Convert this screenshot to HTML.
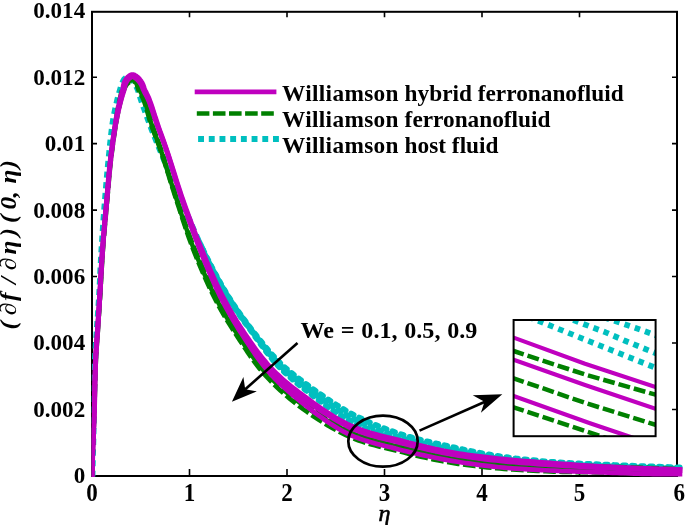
<!DOCTYPE html>
<html><head><meta charset="utf-8"><style>
html,body{margin:0;padding:0;background:#fff;}
svg{display:block;}
svg{will-change:transform;}
</style></head><body>
<svg width="685" height="525" viewBox="0 0 685 525">
<rect width="685" height="525" fill="#fff"/>
<path d="M92.00,476.00V469.00M92.00,11.80V17.30M189.50,476.00V469.00M189.50,11.80V17.30M287.00,476.00V469.00M287.00,11.80V17.30M384.50,476.00V469.00M384.50,11.80V17.30M482.00,476.00V469.00M482.00,11.80V17.30M579.50,476.00V469.00M579.50,11.80V17.30M677.00,476.00V469.00M677.00,11.80V17.30M92.00,409.45H97.00M677.00,409.45H672.00M92.00,343.00H97.00M677.00,343.00H672.00M92.00,276.55H97.00M677.00,276.55H672.00M92.00,210.10H97.00M677.00,210.10H672.00M92.00,143.65H97.00M677.00,143.65H672.00M92.00,77.20H97.00M677.00,77.20H672.00" stroke="#000" stroke-width="1.6" fill="none"/>
<rect x="92" y="11.8" width="585" height="464.2" fill="none" stroke="#000" stroke-width="2"/>
<clipPath id="cc"><rect x="91.7" y="0" width="600" height="476.5"/></clipPath>
<clipPath id="cm"><rect x="91.7" y="0" width="600" height="477"/></clipPath>
<g clip-path="url(#cc)">
<path d="M92.40,477.00 92.41,476.41 92.44,475.37 92.47,473.93 92.51,472.18 92.55,470.17 92.60,467.99 92.65,465.69 92.70,463.36 92.76,461.05 92.81,458.84 92.86,456.80 92.90,455.00 92.93,453.67 92.97,452.42 93.00,451.22 93.03,450.06 93.07,448.91 93.10,447.77 93.13,446.62 93.17,445.43 93.20,444.19 93.23,442.88 93.27,441.49 93.30,440.00 93.36,437.34 93.41,434.45 93.46,431.35 93.52,428.09 93.57,424.70 93.63,421.20 93.68,417.64 93.74,414.05 93.80,410.45 93.87,406.89 93.93,403.39 94.00,400.00 94.07,396.65 94.14,393.27 94.20,389.86 94.27,386.45 94.34,383.04 94.41,379.64 94.49,376.26 94.57,372.91 94.66,369.59 94.76,366.33 94.88,363.13 95.00,360.00 95.12,357.35 95.25,354.75 95.38,352.20 95.52,349.68 95.67,347.19 95.83,344.73 95.98,342.28 96.15,339.84 96.31,337.40 96.47,334.95 96.64,332.49 96.80,330.00 96.96,327.52 97.13,325.09 97.31,322.68 97.48,320.28 97.66,317.89 97.84,315.48 98.02,313.04 98.19,310.57 98.37,308.04 98.55,305.44 98.73,302.77 98.90,300.00 99.12,296.28 99.33,292.40 99.54,288.39 99.74,284.27 99.95,280.07 100.15,275.79 100.36,271.48 100.57,267.14 100.79,262.80 101.02,258.48 101.25,254.21 101.50,250.00 101.76,245.81 102.03,241.60 102.30,237.37 102.58,233.12 102.87,228.88 103.17,224.65 103.47,220.43 103.77,216.25 104.07,212.11 104.38,208.01 104.69,203.97 105.00,200.00 105.28,196.51 105.55,193.07 105.82,189.68 106.10,186.33 106.38,183.01 106.66,179.72 106.95,176.44 107.24,173.16 107.54,169.89 107.85,166.61 108.17,163.32 108.50,160.00 108.84,156.62 109.19,153.17 109.54,149.67 109.90,146.15 110.26,142.62 110.64,139.13 111.02,135.68 111.41,132.30 111.82,129.02 112.23,125.86 112.66,122.85 113.10,120.00 113.42,118.06 113.76,116.18 114.11,114.34 114.46,112.55 114.82,110.81 115.18,109.12 115.54,107.48 115.91,105.89 116.27,104.35 116.62,102.85 116.96,101.40 117.30,100.00 117.53,99.04 117.76,98.11 117.99,97.21 118.22,96.34 118.44,95.49 118.66,94.66 118.89,93.86 119.11,93.07 119.33,92.29 119.55,91.52 119.77,90.76 120.00,90.00 120.19,89.36 120.37,88.74 120.55,88.12 120.73,87.50 120.91,86.90 121.09,86.30 121.27,85.72 121.46,85.15 121.66,84.59 121.86,84.05 122.07,83.52 122.30,83.00 122.50,82.57 122.69,82.14 122.89,81.71 123.09,81.29 123.30,80.87 123.51,80.47 123.73,80.08 123.96,79.71 124.20,79.37 124.45,79.05 124.72,78.76 125.00,78.50 125.25,78.30 125.52,78.11 125.80,77.94 126.09,77.77 126.39,77.63 126.69,77.50 127.00,77.39 127.31,77.30 127.61,77.23 127.91,77.20 128.21,77.18 128.50,77.20 128.80,77.25 129.10,77.35 129.41,77.47 129.71,77.63 130.01,77.81 130.31,78.02 130.61,78.24 130.90,78.48 131.19,78.73 131.47,78.98 131.74,79.24 132.00,79.50 132.29,79.80 132.56,80.12 132.83,80.46 133.09,80.82 133.34,81.19 133.59,81.57 133.83,81.96 134.07,82.36 134.30,82.77 134.53,83.18 134.77,83.59 135.00,84.00 135.26,84.46 135.51,84.92 135.76,85.38 136.01,85.86 136.26,86.34 136.50,86.82 136.74,87.32 136.97,87.83 137.21,88.35 137.44,88.89 137.67,89.44 137.90,90.00 138.18,90.72 138.44,91.46 138.69,92.20 138.93,92.97 139.17,93.75 139.41,94.55 139.66,95.38 139.91,96.24 140.18,97.12 140.47,98.05 140.77,99.00 141.10,100.00 141.67,101.69 142.30,103.52 142.97,105.47 143.68,107.51 144.42,109.63 145.19,111.81 145.98,114.03 146.78,116.27 147.59,118.50 148.40,120.71 149.21,122.89 150.00,125.00 150.78,127.06 151.56,129.08 152.33,131.06 153.11,133.03 153.89,135.00 154.69,136.98 155.50,138.99 156.33,141.05 157.20,143.16 158.09,145.35 159.02,147.62 160.00,150.00 161.47,153.57 163.03,157.35 164.67,161.31 166.37,165.41 168.14,169.63 169.94,173.95 171.78,178.32 173.64,182.72 175.50,187.11 177.35,191.48 179.19,195.79 181.00,200.00 182.79,204.18 184.56,208.36 186.32,212.54 188.09,216.72 189.86,220.90 191.64,225.08 193.44,229.25 195.27,233.42 197.14,237.58 199.04,241.73 200.99,245.87 203.00,250.00 205.10,254.23" stroke="#00BFBF" stroke-width="6" fill="none" stroke-dasharray="6.2 4.5"/>
<path d="M199.04,241.73 200.99,245.87 203.00,250.00 205.10,254.23 207.24,258.48 209.42,262.75 211.64,267.02 213.89,271.28 216.18,275.53 218.50,279.74 220.84,283.92 223.22,288.04 225.62,292.10 228.05,296.09 230.50,300.00 232.83,303.59 235.23,307.17 237.67,310.73 240.15,314.25 242.66,317.73 245.18,321.15 247.70,324.51 250.20,327.79 252.67,330.99 255.11,334.10 257.49,337.11 259.80,340.00 261.57,342.19 263.29,344.32 264.99,346.39 266.66,348.41 268.31,350.37 269.96,352.29 271.60,354.16 273.24,355.99 274.90,357.79 276.57,359.55 278.27,361.29 280.00,363.00 281.59,364.52 283.14,365.97 284.67,367.36 286.19,368.70 287.72,370.01 289.28,371.31 290.88,372.61 292.53,373.91 294.25,375.25 296.06,376.64 297.97,378.08 300.00,379.60 303.33,382.08 306.93,384.73 310.78,387.53 314.82,390.43 319.02,393.41 323.35,396.41 327.78,399.41 332.26,402.36 336.76,405.23 341.24,407.99 345.66,410.59 350.00,413.00 354.08,415.14 358.18,417.20 362.30,419.18 366.44,421.08 370.59,422.90 374.77,424.66 378.95,426.36 383.15,427.99 387.35,429.57 391.56,431.09 395.78,432.57 400.00,434.00 404.12,435.33 408.26,436.58 412.41,437.76 416.56,438.88 420.73,439.94 424.90,440.96 429.08,441.94 433.27,442.89 437.45,443.83 441.64,444.75 445.82,445.67 450.00,446.60 454.16,447.53 458.31,448.44 462.47,449.34 466.63,450.23 470.80,451.10 474.96,451.94 479.13,452.76 483.30,453.56 487.47,454.32 491.64,455.05 495.82,455.75 500.00,456.40 504.15,457.01 508.31,457.58 512.47,458.12 516.64,458.62 520.80,459.09 524.97,459.54 529.14,459.96 533.31,460.36 537.48,460.74 541.66,461.11 545.83,461.46 550.00,461.80 554.16,462.12 558.33,462.41 562.49,462.68 566.66,462.92 570.82,463.15 574.99,463.36 579.16,463.56 583.33,463.75 587.50,463.94 591.66,464.12 595.83,464.31 600.00,464.50 604.21,464.69 608.48,464.88 612.80,465.07 617.14,465.25 621.48,465.42 625.79,465.59 630.07,465.76 634.27,465.92 638.39,466.07 642.40,466.22 646.28,466.36 650.00,466.50 652.92,466.61 656.01,466.71 659.19,466.82 662.38,466.93 665.53,467.03 668.54,467.13 671.37,467.22 673.92,467.31 676.13,467.38 677.93,467.43 679.24,467.48 680.00,467.50" stroke="#00BFBF" stroke-width="6" fill="none" stroke-linecap="round" stroke-dasharray="2.6 6.4" stroke-dashoffset="0"/>
<path d="M198.68,241.90 200.63,246.04 202.64,250.18 204.73,254.41 206.87,258.67 209.05,262.94 211.27,267.22 213.52,271.49 215.80,275.73 218.11,279.96 220.46,284.14 222.83,288.27 225.24,292.34 227.66,296.33 230.11,300.25 232.44,303.85 234.84,307.44 237.28,311.00 239.76,314.53 242.27,318.01 244.79,321.44 247.30,324.81 249.80,328.10 252.20,331.36 254.57,334.53 256.89,337.59 259.13,340.53 260.85,342.77 262.53,344.94 264.19,347.05 265.82,349.11 267.43,351.12 269.04,353.09 270.64,355.01 272.25,356.89 273.88,358.74 275.52,360.56 277.19,362.36 278.90,364.13 280.46,365.71 281.99,367.22 283.50,368.66 285.01,370.06 286.52,371.43 288.06,372.79 289.64,374.14 291.27,375.51 292.97,376.91 294.75,378.36 296.63,379.86 298.63,381.44 301.92,383.99 305.48,386.72 309.28,389.60 313.27,392.60 317.44,395.66 321.74,398.77 326.13,401.87 330.58,404.94 335.06,407.93 339.54,410.81 343.98,413.54 348.33,416.08 352.48,418.26 356.63,420.34 360.81,422.34 365.00,424.27 369.21,426.12 373.43,427.90 377.66,429.61 381.90,431.26 386.14,432.85 390.39,434.39 394.64,435.88 398.90,437.32 403.09,438.63 407.30,439.86 411.51,441.02 415.72,442.10 419.93,443.14 424.15,444.12 428.36,445.07 432.57,445.98 436.77,446.88 440.97,447.76 445.16,448.64 449.35,449.53 453.52,450.41 457.69,451.29 461.87,452.15 466.05,453.00 470.23,453.83 474.42,454.64 478.61,455.42 482.81,456.18 487.01,456.91 491.21,457.60 495.42,458.25 499.62,458.87 503.81,459.44 507.99,459.98 512.18,460.47 516.37,460.94 520.55,461.37 524.74,461.78 528.93,462.16 533.11,462.52 537.30,462.86 541.48,463.18 545.66,463.49 549.84,463.79 554.02,464.10 558.20,464.38 562.37,464.63 566.55,464.86 570.72,465.07 574.90,465.26 579.07,465.45 583.24,465.62 587.41,465.79 591.58,465.96 595.75,466.13 599.92,466.31 604.13,466.48 608.40,466.66 612.72,466.82 617.06,466.99 621.41,467.15 625.73,467.30 630.00,467.45 634.21,467.59 638.33,467.73 642.34,467.86 646.22,467.99 649.94,468.11 652.87,468.21 655.95,468.30 659.13,468.40 662.33,468.50 665.47,468.59 668.49,468.68 671.32,468.76 673.87,468.83 676.08,468.89 677.88,468.94 679.19,468.98 679.95,469.00" stroke="#00BFBF" stroke-width="6" fill="none" stroke-linecap="round" stroke-dasharray="2.6 6.4" stroke-dashoffset="3"/>
<path d="M198.32,242.07 200.27,246.22 202.27,250.36 204.37,254.60 206.50,258.86 208.68,263.13 210.89,267.41 213.14,271.69 215.42,275.94 217.73,280.17 220.08,284.36 222.45,288.49 224.85,292.57 227.27,296.57 229.72,300.50 232.05,304.11 234.45,307.70 236.89,311.27 239.37,314.81 241.88,318.30 244.39,321.73 246.91,325.11 249.40,328.41 251.73,331.73 254.03,334.95 256.28,338.07 258.47,341.07 260.14,343.34 261.78,345.56 263.38,347.72 264.97,349.82 266.55,351.87 268.12,353.88 269.69,355.86 271.26,357.79 272.86,359.70 274.47,361.57 276.12,363.43 277.79,365.26 279.34,366.90 280.84,368.46 282.34,369.97 283.83,371.42 285.32,372.85 286.85,374.27 288.41,375.68 290.02,377.11 291.69,378.57 293.45,380.07 295.30,381.64 297.25,383.29 300.50,385.90 304.02,388.71 307.78,391.68 311.73,394.76 315.86,397.92 320.12,401.13 324.48,404.34 328.91,407.52 333.37,410.63 337.85,413.63 342.29,416.49 346.67,419.16 350.88,421.37 355.09,423.48 359.32,425.51 363.57,427.46 367.82,429.33 372.09,431.13 376.37,432.86 380.65,434.53 384.93,436.14 389.22,437.69 393.50,439.19 397.80,440.65 402.06,441.93 406.33,443.14 410.61,444.27 414.88,445.33 419.14,446.33 423.39,447.28 427.64,448.19 431.87,449.07 436.10,449.93 440.31,450.77 444.50,451.61 448.70,452.46 452.88,453.30 457.07,454.14 461.26,454.97 465.46,455.78 469.67,456.57 473.88,457.34 478.10,458.08 482.32,458.80 486.55,459.49 490.78,460.15 495.01,460.76 499.25,461.34 503.46,461.88 507.68,462.37 511.89,462.83 516.10,463.26 520.30,463.65 524.51,464.02 528.71,464.36 532.91,464.67 537.11,464.97 541.30,465.26 545.49,465.53 549.68,465.79 553.87,466.08 558.06,466.34 562.25,466.58 566.44,466.79 570.62,466.99 574.81,467.16 578.98,467.33 583.16,467.49 587.33,467.65 591.50,467.80 595.67,467.95 599.83,468.11 604.04,468.27 608.32,468.43 612.65,468.58 616.99,468.73 621.34,468.87 625.66,469.01 629.94,469.14 634.15,469.27 638.27,469.39 642.28,469.51 646.16,469.62 649.88,469.73 652.81,469.81 655.90,469.90 659.08,469.98 662.28,470.06 665.42,470.14 668.44,470.22 671.27,470.29 673.82,470.35 676.03,470.40 677.83,470.45 679.15,470.48 679.90,470.50" stroke="#00BFBF" stroke-width="6" fill="none" stroke-linecap="round" stroke-dasharray="2.6 6.4" stroke-dashoffset="6"/>
<path d="M92.20,477.00 92.22,476.41 92.24,475.37 92.28,473.93 92.32,472.18 92.37,470.17 92.43,467.99 92.49,465.69 92.55,463.36 92.62,461.05 92.68,458.84 92.74,456.80 92.80,455.00 92.85,453.67 92.89,452.39 92.94,451.17 92.99,449.98 93.04,448.81 93.08,447.64 93.13,446.47 93.19,445.28 93.24,444.04 93.29,442.76 93.34,441.42 93.40,440.00 93.48,437.88 93.57,435.68 93.65,433.40 93.74,431.05 93.83,428.62 93.93,426.12 94.02,423.56 94.12,420.95 94.21,418.28 94.31,415.56 94.41,412.80 94.50,410.00 94.62,406.24 94.73,402.25 94.84,398.09 94.95,393.80 95.06,389.42 95.17,385.00 95.28,380.57 95.41,376.19 95.54,371.90 95.68,367.74 95.83,363.76 96.00,360.00 96.14,357.23 96.29,354.56 96.45,351.96 96.61,349.43 96.78,346.96 96.95,344.52 97.13,342.11 97.31,339.72 97.48,337.32 97.66,334.91 97.83,332.48 98.00,330.00 98.17,327.52 98.33,325.09 98.49,322.68 98.66,320.28 98.82,317.89 98.98,315.48 99.15,313.04 99.31,310.57 99.48,308.04 99.65,305.44 99.82,302.77 100.00,300.00 100.23,296.28 100.46,292.40 100.69,288.39 100.92,284.27 101.15,280.07 101.39,275.79 101.63,271.47 101.89,267.13 102.15,262.79 102.42,258.48 102.70,254.21 103.00,250.00 103.31,245.81 103.64,241.60 103.99,237.37 104.34,233.12 104.71,228.88 105.08,224.65 105.45,220.43 105.83,216.25 106.21,212.11 106.58,208.01 106.94,203.97 107.30,200.00 107.61,196.51 107.90,193.07 108.19,189.68 108.47,186.33 108.75,183.01 109.03,179.71 109.32,176.43 109.63,173.16 109.94,169.89 110.27,166.61 110.62,163.32 111.00,160.00 111.40,156.62 111.83,153.17 112.28,149.67 112.74,146.14 113.21,142.62 113.70,139.12 114.20,135.68 114.70,132.30 115.20,129.02 115.70,125.86 116.20,122.85 116.70,120.00 117.05,118.06 117.41,116.18 117.76,114.34 118.12,112.55 118.48,110.81 118.84,109.12 119.21,107.48 119.57,105.89 119.93,104.34 120.29,102.85 120.65,101.40 121.00,100.00 121.25,99.03 121.50,98.08 121.74,97.16 121.99,96.27 122.23,95.39 122.47,94.55 122.72,93.73 122.97,92.93 123.22,92.16 123.47,91.41 123.73,90.69 124.00,90.00 124.20,89.51 124.39,89.03 124.59,88.56 124.79,88.11 124.99,87.67 125.19,87.25 125.39,86.84 125.60,86.44 125.82,86.06 126.04,85.69 126.27,85.34 126.50,85.00 126.69,84.74 126.88,84.49 127.07,84.25 127.27,84.02 127.46,83.79 127.66,83.58 127.87,83.38 128.08,83.18 128.30,83.00 128.52,82.82 128.76,82.65 129.00,82.50 129.26,82.35 129.53,82.20 129.81,82.06 130.10,81.93 130.39,81.80 130.69,81.69 131.00,81.60 131.30,81.52 131.61,81.46 131.91,81.41 132.21,81.39 132.50,81.40 132.80,81.43 133.10,81.47 133.41,81.54 133.72,81.62 134.03,81.73 134.33,81.85 134.63,81.99 134.93,82.15 135.21,82.34 135.49,82.54 135.75,82.76 136.00,83.00 136.31,83.39 136.59,83.83 136.84,84.34 137.06,84.88 137.00,85.56 137.18,86.18 137.37,86.82 137.56,87.48 137.75,88.15 137.97,88.82 138.21,89.49 138.48,90.15 138.84,90.93 139.23,91.70 139.63,92.47 140.06,93.24 140.49,94.02 140.94,94.81 141.38,95.63 141.83,96.47 142.28,97.34 142.72,98.25 143.16,99.21 143.58,100.21 144.21,101.88 144.83,103.69 145.45,105.62 146.06,107.66 146.67,109.79 147.29,111.98 147.91,114.21 148.54,116.46 149.17,118.72 149.84,120.95 150.53,123.14 151.23,125.26 151.96,127.34 152.69,129.36 153.42,131.35 154.17,133.32 154.92,135.28 155.68,137.26 156.46,139.27 157.24,141.32 158.03,143.43 158.84,145.61 159.66,147.89 160.49,150.28 161.70,153.83 162.93,157.60 164.20,161.54 165.50,165.65 166.82,169.87 168.17,174.19 169.52,178.56 170.89,182.97 172.27,187.38 173.66,191.75 175.04,196.07 176.42,200.29 177.79,204.47 179.15,208.65 180.51,212.83 181.87,217.01 183.24,221.19 184.62,225.37 186.02,229.55 187.45,233.73 188.92,237.90 190.42,242.06 191.96,246.22 193.56,250.37 195.23,254.60 196.94,258.85 198.69,263.12 200.47,267.40 202.28,271.67 204.13,275.92 206.01,280.15 207.91,284.34 209.85,288.48 211.81,292.56 213.80,296.58 215.81,300.51 217.70,304.09 219.63,307.62 221.58,311.10 223.56,314.53 225.57,317.93 227.59,321.28 229.64,324.60 231.69,327.88 233.76,331.13 235.83,334.34 237.90,337.52 239.98,340.68 241.90,343.59 243.79,346.47 245.67,349.32 247.55,352.14 249.45,354.93 251.36,357.70 253.31,360.45 255.31,363.17 257.37,365.88 259.49,368.56 261.70,371.24 264.00,373.89 266.57,376.72 269.20,379.53 271.89,382.31 274.66,385.07 277.48,387.80 280.38,390.50 283.34,393.18 286.36,395.83 289.45,398.46 292.60,401.06 295.81,403.64 299.09,406.19 302.90,408.97 306.83,411.78 310.88,414.59 315.02,417.40 319.24,420.16 323.52,422.88 327.86,425.52 332.23,428.07 336.63,430.51 341.03,432.82 345.42,434.97 349.79,436.96 353.89,438.69 358.01,440.27 362.16,441.71 366.33,443.04 370.52,444.27 374.72,445.42 378.93,446.51 383.15,447.55 387.37,448.56 391.58,449.56 395.80,450.57 400.00,451.60 404.15,452.67 408.30,453.72 412.46,454.74 416.61,455.74 420.78,456.71 424.94,457.66 429.11,458.57 433.28,459.45 437.46,460.29 441.64,461.10 445.82,461.87 450.00,462.60 454.15,463.28 458.31,463.92 462.47,464.52 466.63,465.08 470.80,465.60 474.97,466.10 479.14,466.57 483.31,467.01 487.48,467.43 491.65,467.84 495.83,468.22 500.00,468.60 504.16,468.96 508.33,469.28 512.49,469.59 516.66,469.87 520.82,470.12 524.99,470.36 529.16,470.58 533.33,470.79 537.49,470.98 541.66,471.16 545.83,471.33 550.00,471.50 554.17,471.65 558.33,471.78 562.50,471.88 566.66,471.97 570.83,472.05 575.00,472.12 579.16,472.18 583.33,472.24 587.50,472.29 591.67,472.36 595.83,472.42 600.00,472.50 604.21,472.58 608.48,472.67 612.80,472.76 617.14,472.85 621.48,472.94 625.79,473.02 630.07,473.11 634.27,473.20 638.39,473.28 642.40,473.36 646.28,473.43 650.00,473.50 652.92,473.55 656.01,473.61 659.19,473.66 662.38,473.71 665.53,473.77 668.54,473.82 671.37,473.86 673.92,473.90 676.13,473.94 677.93,473.97 679.24,473.99 680.00,474.00" stroke="#008000" stroke-width="4.5" fill="none" stroke-dasharray="12.6 3.5" stroke-dashoffset="0"/>
<path d="M91.96,476.99 91.97,476.41 92.00,475.36 92.04,473.93 92.08,472.17 92.13,470.17 92.19,467.98 92.25,465.69 92.31,463.35 92.38,461.04 92.44,458.83 92.50,456.79 92.56,454.99 92.60,453.66 92.65,452.38 92.70,451.16 92.75,449.97 92.79,448.80 92.84,447.63 92.89,446.46 92.94,445.26 92.99,444.03 93.05,442.75 93.10,441.41 93.16,439.99 93.24,437.88 93.32,435.67 93.41,433.39 93.50,431.04 93.59,428.61 93.68,426.11 93.78,423.55 93.87,420.94 93.97,418.27 94.06,415.55 94.16,412.79 94.25,409.99 94.37,406.23 94.48,402.25 94.59,398.09 94.70,393.80 94.81,389.42 94.92,384.99 95.04,380.57 95.16,376.19 95.29,371.89 95.43,367.73 95.58,363.75 95.75,359.99 95.89,357.22 96.04,354.54 96.20,351.95 96.36,349.42 96.53,346.94 96.70,344.50 96.88,342.09 97.05,339.70 97.23,337.30 97.40,334.89 97.58,332.46 97.74,329.98 97.91,327.51 98.07,325.07 98.24,322.66 98.40,320.27 98.56,317.87 98.72,315.46 98.89,313.02 99.05,310.55 99.22,308.02 99.39,305.42 99.56,302.75 99.74,299.98 99.97,296.26 100.20,292.39 100.42,288.38 100.65,284.26 100.89,280.05 101.13,275.78 101.37,271.46 101.62,267.12 101.88,262.78 102.15,258.46 102.44,254.19 102.73,249.98 103.04,245.79 103.37,241.58 103.72,237.34 104.07,233.10 104.44,228.86 104.81,224.62 105.18,220.41 105.56,216.23 105.93,212.08 106.30,207.98 106.67,203.95 107.02,199.98 107.33,196.49 107.62,193.05 107.91,189.66 108.19,186.31 108.47,182.99 108.75,179.69 109.04,176.41 109.34,173.13 109.65,169.86 109.98,166.58 110.34,163.28 110.71,159.97 111.12,156.58 111.54,153.13 111.99,149.63 112.45,146.10 112.92,142.58 113.41,139.08 113.90,135.63 114.40,132.25 114.89,128.97 115.36,125.81 115.83,122.78 116.29,119.93 116.62,117.98 116.95,116.09 117.28,114.25 117.61,112.45 117.95,110.70 118.29,109.00 118.63,107.35 118.96,105.75 119.30,104.19 119.64,102.69 119.97,101.23 120.30,99.82 120.54,98.84 120.77,97.89 121.00,96.96 121.23,96.06 121.45,95.17 121.68,94.32 121.92,93.48 122.15,92.67 122.39,91.88 122.63,91.12 122.88,90.38 123.13,89.66 123.32,89.15 123.51,88.66 123.70,88.18 123.89,87.71 124.08,87.25 124.29,86.81 124.50,86.38 124.71,85.95 124.93,85.55 125.16,85.15 125.40,84.76 125.65,84.40 125.85,84.11 126.05,83.84 126.25,83.58 126.46,83.32 126.67,83.07 126.89,82.83 127.12,82.59 127.36,82.37 127.61,82.15 127.87,81.94 128.14,81.74 128.42,81.55 128.71,81.37 129.01,81.20 129.32,81.04 129.64,80.88 129.97,80.73 130.32,80.59 130.67,80.47 131.04,80.37 131.41,80.28 131.79,80.22 132.18,80.20 132.57,80.21 132.94,80.26 133.31,80.32 133.69,80.41 134.06,80.52 134.43,80.65 134.79,80.80 135.15,80.98 135.50,81.18 135.85,81.41 136.18,81.66 136.50,81.94 136.82,82.27 137.20,82.75 137.54,83.31 137.82,83.89 138.13,84.75 138.07,85.46 138.21,85.87 138.39,86.52 138.57,87.18 138.76,87.83 138.97,88.48 139.19,89.11 139.43,89.73 139.77,90.48 140.13,91.23 140.52,91.99 140.93,92.75 141.35,93.54 141.78,94.34 142.21,95.18 142.65,96.04 143.09,96.94 143.53,97.87 143.96,98.86 144.38,99.90 144.99,101.60 145.60,103.43 146.19,105.39 146.79,107.45 147.38,109.59 147.97,111.79 148.57,114.03 149.17,116.28 149.78,118.54 150.42,120.77 151.09,122.95 151.78,125.08 152.49,127.15 153.20,129.17 153.92,131.16 154.65,133.13 155.39,135.10 156.14,137.08 156.89,139.10 157.66,141.16 158.44,143.27 159.24,145.47 160.04,147.76 160.86,150.15 162.04,153.71 163.26,157.49 164.50,161.45 165.79,165.55 167.13,169.77 168.49,174.09 169.86,178.46 171.25,182.86 172.64,187.26 174.04,191.63 175.44,195.94 176.83,200.15 178.22,204.33 179.60,208.50 180.97,212.68 182.34,216.85 183.74,221.02 185.16,225.19 186.60,229.36 188.06,233.51 189.56,237.67 191.10,241.81 192.68,245.95 194.31,250.08 196.02,254.28 197.77,258.52 199.56,262.76 201.38,267.01 203.21,271.27 205.07,275.50 206.96,279.72 208.88,283.89 210.83,288.01 212.80,292.08 214.80,296.08 216.82,299.99 218.72,303.54 220.65,307.05 222.61,310.51 224.61,313.93 226.63,317.30 228.67,320.63 230.72,323.92 232.80,327.18 234.88,330.41 236.97,333.60 239.06,336.76 241.16,339.90 243.10,342.80 245.01,345.66 246.91,348.50 248.81,351.29 250.75,354.04 252.71,356.76 254.69,359.45 256.73,362.11 258.81,364.75 260.97,367.37 263.21,369.96 265.53,372.53 268.13,375.28 270.80,378.01 273.53,380.70 276.33,383.36 279.19,386.00 282.12,388.61 285.11,391.19 288.17,393.74 291.29,396.26 294.47,398.76 297.71,401.23 301.00,403.66 304.81,406.32 308.77,409.03 312.84,411.74 316.99,414.43 321.22,417.09 325.51,419.68 329.84,422.20 334.20,424.62 338.56,426.92 342.92,429.09 347.25,431.09 351.56,432.93 355.54,434.59 359.53,436.11 363.57,437.49 367.64,438.77 371.74,439.96 375.87,441.07 380.03,442.13 384.22,443.14 388.42,444.13 392.64,445.12 396.88,446.11 401.12,447.14 405.28,448.25 409.40,449.32 413.52,450.37 417.64,451.40 421.77,452.39 425.90,453.36 430.03,454.30 434.16,455.20 438.29,456.07 442.43,456.91 446.56,457.70 450.70,458.46 454.81,459.12 458.93,459.75 463.05,460.33 467.18,460.88 471.31,461.39 475.45,461.88 479.60,462.33 483.75,462.77 487.90,463.18 492.06,463.57 496.22,463.95 500.38,464.32 504.51,464.71 508.64,465.08 512.78,465.42 516.92,465.74 521.06,466.04 525.21,466.32 529.36,466.58 533.51,466.83 537.67,467.06 541.83,467.28 545.99,467.50 550.14,467.70 554.29,467.92 558.43,468.11 562.58,468.28 566.74,468.44 570.89,468.58 575.05,468.72 579.21,468.85 583.38,468.97 587.54,469.09 591.71,469.22 595.89,469.36 600.06,469.50 604.27,469.60 608.54,469.71 612.86,469.81 617.20,469.92 621.54,470.02 625.85,470.13 630.13,470.23 634.33,470.33 638.45,470.43 642.46,470.53 646.33,470.62 650.05,470.70 652.97,470.79 656.06,470.89 659.23,470.98 662.43,471.08 665.57,471.17 668.59,471.26 671.41,471.35 673.96,471.42 676.17,471.49 677.97,471.54 679.28,471.58 680.04,471.60" stroke="#008000" stroke-width="4.5" fill="none" stroke-dasharray="12.6 3.5" stroke-dashoffset="5.4"/>
<path d="M91.72,476.99 91.73,476.40 91.76,475.36 91.80,473.92 91.84,472.17 91.89,470.16 91.95,467.97 92.01,465.68 92.07,463.34 92.13,461.03 92.20,458.83 92.26,456.79 92.32,454.98 92.36,453.65 92.41,452.38 92.46,451.15 92.50,449.96 92.55,448.79 92.60,447.62 92.65,446.45 92.70,445.25 92.75,444.02 92.80,442.74 92.86,441.40 92.91,439.98 92.99,437.87 93.08,435.67 93.16,433.38 93.25,431.03 93.35,428.60 93.44,426.10 93.53,423.54 93.63,420.93 93.72,418.26 93.82,415.54 93.91,412.78 94.01,409.98 94.12,406.22 94.24,402.24 94.35,398.08 94.45,393.79 94.56,389.41 94.67,384.99 94.79,380.56 94.91,376.18 95.04,371.89 95.18,367.73 95.33,363.74 95.50,359.98 95.64,357.21 95.79,354.53 95.95,351.93 96.11,349.40 96.28,346.92 96.45,344.49 96.62,342.08 96.80,339.68 96.98,337.28 97.15,334.87 97.32,332.44 97.49,329.97 97.65,327.49 97.82,325.05 97.98,322.64 98.14,320.25 98.30,317.85 98.47,315.44 98.63,313.01 98.80,310.53 98.96,308.00 99.13,305.41 99.30,302.73 99.48,299.97 99.71,296.25 99.93,292.37 100.16,288.36 100.39,284.24 100.62,280.04 100.86,275.76 101.10,271.44 101.36,267.10 101.62,262.76 101.89,258.44 102.17,254.17 102.46,249.96 102.78,245.77 103.10,241.56 103.45,237.32 103.80,233.08 104.16,228.83 104.53,224.60 104.91,220.39 105.28,216.20 105.65,212.06 106.02,207.96 106.39,203.92 106.74,199.95 107.05,196.46 107.34,193.03 107.63,189.64 107.91,186.28 108.19,182.96 108.47,179.66 108.76,176.38 109.06,173.11 109.37,169.83 109.70,166.55 110.05,163.25 110.42,159.93 110.83,156.55 111.25,153.09 111.69,149.59 112.15,146.07 112.63,142.54 113.11,139.04 113.61,135.59 114.10,132.21 114.58,128.92 115.01,125.75 115.45,122.72 115.87,119.85 116.18,117.90 116.49,116.00 116.80,114.15 117.11,112.35 117.42,110.59 117.73,108.88 118.05,107.22 118.36,105.61 118.67,104.05 118.99,102.53 119.30,101.06 119.60,99.64 119.82,98.66 120.04,97.70 120.25,96.76 120.47,95.85 120.68,94.96 120.89,94.08 121.11,93.24 121.33,92.41 121.56,91.60 121.79,90.82 122.03,90.06 122.27,89.32 122.45,88.80 122.63,88.29 122.81,87.80 122.99,87.31 123.18,86.83 123.38,86.37 123.60,85.91 123.82,85.47 124.05,85.03 124.29,84.61 124.54,84.19 124.80,83.79 125.01,83.49 125.22,83.20 125.43,82.91 125.65,82.63 125.88,82.35 126.12,82.08 126.37,81.81 126.64,81.55 126.92,81.30 127.21,81.05 127.52,80.82 127.84,80.60 128.16,80.40 128.48,80.20 128.82,80.01 129.18,79.83 129.55,79.66 129.94,79.49 130.35,79.35 130.77,79.22 131.21,79.11 131.67,79.03 132.15,79.01 132.63,79.03 133.09,79.09 133.52,79.17 133.96,79.28 134.39,79.41 134.82,79.57 135.25,79.76 135.67,79.97 136.08,80.22 136.48,80.49 136.87,80.79 137.24,81.12 137.64,81.53 138.09,82.12 138.49,82.78 138.81,83.45 139.19,84.61 139.14,85.37 139.23,85.57 139.42,86.23 139.59,86.88 139.77,87.52 139.96,88.14 140.16,88.74 140.38,89.31 140.70,90.03 141.04,90.77 141.41,91.51 141.80,92.27 142.20,93.06 142.62,93.88 143.04,94.72 143.48,95.61 143.91,96.53 144.34,97.50 144.76,98.51 145.17,99.59 145.77,101.31 146.36,103.18 146.94,105.16 147.51,107.23 148.08,109.39 148.65,111.60 149.23,113.84 149.80,116.11 150.39,118.36 151.00,120.59 151.65,122.77 152.32,124.89 153.01,126.96 153.71,128.98 154.42,130.97 155.13,132.95 155.86,134.92 156.59,136.91 157.33,138.93 158.09,140.99 158.86,143.12 159.63,145.32 160.43,147.62 161.23,150.02 162.39,153.60 163.58,157.38 164.80,161.35 166.08,165.46 167.44,169.68 168.81,173.99 170.20,178.35 171.60,182.75 173.01,187.15 174.42,191.51 175.84,195.81 177.24,200.02 178.65,204.19 180.04,208.36 181.43,212.53 182.82,216.70 184.25,220.86 185.70,225.01 187.17,229.16 188.67,233.30 190.20,237.44 191.77,241.56 193.39,245.68 195.06,249.78 196.81,253.97 198.60,258.18 200.42,262.40 202.28,266.63 204.14,270.87 206.01,275.09 207.91,279.29 209.84,283.44 211.80,287.55 213.79,291.60 215.80,295.57 217.83,299.47 219.73,303.00 221.68,306.48 223.65,309.92 225.65,313.32 227.68,316.67 229.74,319.98 231.81,323.25 233.90,326.48 236.00,329.69 238.11,332.86 240.22,336.00 242.34,339.12 244.30,342.01 246.23,344.86 248.15,347.68 250.07,350.44 252.05,353.15 254.05,355.82 256.07,358.45 258.14,361.06 260.26,363.63 262.45,366.17 264.71,368.69 267.06,371.18 269.70,373.84 272.40,376.48 275.17,379.08 278.00,381.66 280.90,384.20 283.86,386.71 286.88,389.20 289.97,391.65 293.12,394.07 296.34,396.46 299.62,398.83 302.90,401.13 306.73,403.67 310.71,406.28 314.79,408.89 318.97,411.47 323.21,414.01 327.50,416.48 331.82,418.88 336.16,421.17 340.50,423.33 344.81,425.35 349.08,427.21 353.33,428.91 357.19,430.50 361.06,431.94 364.98,433.27 368.95,434.50 372.96,435.65 377.03,436.73 381.14,437.75 385.29,438.74 389.48,439.71 393.70,440.68 397.96,441.66 402.25,442.68 406.41,443.82 410.49,444.92 414.58,446.00 418.67,447.05 422.76,448.07 426.85,449.07 430.95,450.03 435.04,450.96 439.13,451.85 443.22,452.71 447.31,453.54 451.40,454.32 455.47,454.97 459.55,455.58 463.63,456.15 467.73,456.68 471.83,457.18 475.94,457.66 480.06,458.10 484.19,458.52 488.32,458.92 492.46,459.31 496.61,459.68 500.75,460.03 504.86,460.47 508.96,460.87 513.07,461.26 517.19,461.62 521.31,461.95 525.43,462.27 529.57,462.58 533.70,462.86 537.85,463.14 541.99,463.40 546.14,463.66 550.29,463.91 554.41,464.19 558.54,464.45 562.67,464.69 566.81,464.91 570.95,465.12 575.10,465.32 579.26,465.51 583.42,465.70 587.59,465.90 591.76,466.09 595.94,466.29 600.12,466.50 604.33,466.62 608.60,466.74 612.92,466.86 617.26,466.99 621.60,467.11 625.91,467.23 630.18,467.35 634.39,467.47 638.51,467.59 642.51,467.70 646.38,467.80 650.10,467.90 653.02,468.03 656.10,468.17 659.28,468.31 662.47,468.45 665.61,468.58 668.63,468.71 671.45,468.83 674.00,468.94 676.21,469.04 678.01,469.11 679.32,469.17 680.08,469.20" stroke="#008000" stroke-width="4.5" fill="none" stroke-dasharray="12.6 3.5" stroke-dashoffset="10.8"/>
<path d="M303.10,400.51 306.89,403.42 310.82,406.41 314.87,409.42 319.03,412.44 323.27,415.43 327.58,418.36 331.94,421.20 336.33,423.93 340.73,426.50 345.13,428.89 349.50,431.08 353.59,432.90 357.72,434.55 361.87,436.05 366.05,437.42 370.25,438.68 374.45,439.86 378.67,440.97 382.89,442.03 387.10,443.06 391.31,444.09 395.51,445.13 399.69,446.20 403.84,447.27 408.00,448.32 412.17,449.34 416.34,450.34 420.51,451.31 424.69,452.26 428.86,453.18 433.05,454.07 437.23,454.93 441.42,455.76 445.61,456.55 449.80,457.32 453.96,458.05 458.13,458.74 462.30,459.40 466.47,460.03 470.64,460.63 474.81,461.20 478.99,461.74 483.17,462.27 487.35,462.76 491.52,463.24 495.70,463.71 499.88,464.15 504.05,464.56 508.22,464.94 512.39,465.29 516.57,465.61 520.74,465.92 524.91,466.20 529.08,466.47 533.26,466.73 537.43,466.98 541.60,467.23 545.77,467.48 549.94,467.72 554.10,467.96 558.27,468.19 562.44,468.41 566.61,468.63 570.78,468.83 574.95,469.03 579.12,469.22 583.29,469.41 587.46,469.59 591.63,469.76 595.79,469.94 599.96,470.11 604.17,470.29 608.45,470.47 612.76,470.65 617.10,470.82 621.44,470.99 625.76,471.15 630.04,471.31 634.25,471.46 638.37,471.60 642.38,471.73 646.25,471.85 649.98,471.96 652.90,472.02 655.99,472.09 659.17,472.15 662.37,472.20 665.51,472.25 668.53,472.30 671.35,472.34 673.91,472.37 676.12,472.40 677.92,472.42 679.23,472.44 679.99,472.45" stroke="#1a6e1a" stroke-width="3" fill="none" stroke-dasharray="12.6 3.5"/>
</g><g clip-path="url(#cm)">
<path d="M91.76,476.99 91.78,476.41 91.80,475.36 91.84,473.93 91.88,472.17 91.93,470.17 91.99,467.98 92.05,465.69 92.11,463.35 92.18,461.04 92.24,458.83 92.30,456.79 92.36,454.99 92.40,453.66 92.45,452.38 92.50,451.16 92.55,449.97 92.59,448.80 92.64,447.63 92.69,446.46 92.74,445.26 92.79,444.03 92.85,442.75 92.90,441.41 92.96,439.99 93.04,437.88 93.12,435.67 93.21,433.39 93.30,431.04 93.40,428.61 93.49,426.11 93.59,423.55 93.68,420.94 93.78,418.27 93.87,415.55 93.96,412.79 94.05,409.99 94.16,406.23 94.26,402.25 94.35,398.09 94.44,393.80 94.53,389.42 94.62,384.99 94.72,380.57 94.82,376.19 94.93,371.90 95.05,367.74 95.19,363.75 95.35,359.99 95.49,357.22 95.63,354.54 95.79,351.95 95.96,349.42 96.13,346.94 96.30,344.50 96.48,342.09 96.66,339.70 96.83,337.30 97.01,334.89 97.18,332.46 97.35,329.98 97.51,327.51 97.66,325.07 97.82,322.66 97.97,320.27 98.12,317.87 98.28,315.46 98.43,313.02 98.59,310.55 98.74,308.02 98.90,305.43 99.07,302.75 99.24,299.98 99.46,296.26 99.69,292.39 99.92,288.38 100.14,284.26 100.38,280.05 100.62,275.78 100.86,271.46 101.12,267.12 101.38,262.78 101.65,258.46 101.94,254.19 102.23,249.98 102.55,245.79 102.88,241.58 103.22,237.34 103.57,233.10 103.94,228.86 104.31,224.62 104.68,220.41 105.06,216.23 105.43,212.08 105.80,207.98 106.17,203.95 106.52,199.98 106.83,196.49 107.12,193.05 107.41,189.66 107.69,186.31 107.97,182.99 108.25,179.69 108.54,176.41 108.84,173.13 109.15,169.86 109.49,166.58 109.84,163.28 110.21,159.97 110.62,156.58 111.04,153.13 111.49,149.63 111.95,146.10 112.42,142.58 112.91,139.08 113.40,135.63 113.90,132.26 114.40,128.97 114.89,125.81 115.36,122.79 115.82,119.93 116.15,117.99 116.48,116.10 116.82,114.25 117.16,112.46 117.50,110.71 117.84,109.01 118.18,107.36 118.52,105.76 118.86,104.21 119.19,102.70 119.51,101.24 119.84,99.83 120.06,98.86 120.29,97.92 120.53,97.01 120.76,96.13 120.98,95.28 121.21,94.45 121.43,93.64 121.65,92.84 121.86,92.06 122.06,91.29 122.26,90.53 122.45,89.78 122.59,89.16 122.71,88.55 122.83,87.95 122.94,87.34 123.05,86.74 123.16,86.14 123.27,85.54 123.40,84.94 123.53,84.35 123.69,83.77 123.87,83.19 124.07,82.62 124.28,82.14 124.48,81.67 124.70,81.21 124.92,80.74 125.16,80.29 125.41,79.84 125.68,79.41 125.96,78.98 126.25,78.56 126.57,78.16 126.90,77.78 127.25,77.42 127.59,77.09 127.94,76.77 128.32,76.45 128.71,76.13 129.13,75.83 129.55,75.54 130.00,75.27 130.46,75.03 130.93,74.83 131.43,74.66 131.95,74.55 132.48,74.51 133.00,74.55 133.51,74.64 134.00,74.79 134.47,74.98 134.91,75.19 135.35,75.44 135.77,75.70 136.17,75.98 136.57,76.27 136.95,76.57 137.32,76.87 137.68,77.17 138.12,77.55 138.56,77.97 138.98,78.41 139.40,78.88 139.81,79.36 140.21,79.86 140.60,80.37 140.97,80.90 141.33,81.43 141.67,81.96 142.00,82.49 142.31,83.02 142.60,83.56 142.87,84.11 143.11,84.66 143.33,85.20 143.53,85.75 143.73,86.30 143.92,86.85 144.11,87.40 144.30,87.96 144.51,88.52 144.72,89.09 144.96,89.66 145.28,90.40 145.62,91.14 145.98,91.89 146.35,92.65 146.73,93.43 147.13,94.23 147.53,95.06 147.94,95.92 148.35,96.81 148.76,97.75 149.18,98.73 149.59,99.76 150.23,101.46 150.89,103.29 151.57,105.24 152.25,107.30 152.95,109.42 153.65,111.61 154.36,113.84 155.07,116.09 155.78,118.33 156.50,120.55 157.21,122.73 157.92,124.85 158.64,126.91 159.35,128.93 160.05,130.91 160.76,132.88 161.47,134.85 162.19,136.83 162.91,138.84 163.65,140.90 164.40,143.03 165.17,145.22 165.97,147.51 166.80,149.90 168.00,153.46 169.24,157.23 170.51,161.18 171.82,165.28 173.14,169.51 174.50,173.82 175.87,178.19 177.27,182.59 178.68,186.98 180.10,191.34 181.54,195.64 182.99,199.83 184.47,204.00 185.96,208.17 187.47,212.33 188.99,216.49 190.53,220.65 192.08,224.81 193.66,228.96 195.26,233.10 196.89,237.24 198.54,241.38 200.22,245.50 201.93,249.62 203.66,253.83 205.42,258.06 207.20,262.31 209.00,266.56 210.83,270.81 212.68,275.04 214.56,279.24 216.47,283.40 218.40,287.51 220.36,291.57 222.35,295.55 224.37,299.44 226.27,302.98 228.20,306.49 230.17,309.95 232.17,313.38 234.18,316.76 236.22,320.10 238.28,323.40 240.34,326.65 242.42,329.85 244.49,333.01 246.57,336.11 248.65,339.16 250.53,341.82 252.39,344.45 254.23,347.02 256.06,349.55 257.90,352.04 259.75,354.49 261.62,356.90 263.53,359.27 265.48,361.62 267.47,363.93 269.53,366.22 271.65,368.49 273.91,370.81 276.20,373.07 278.52,375.29 280.88,377.47 283.29,379.63 285.75,381.75 288.27,383.87 290.85,385.97 293.51,388.08 296.24,390.19 299.05,392.32 301.96,394.47 305.64,397.19 309.47,400.00 313.45,402.86 317.53,405.75 321.72,408.63 325.98,411.47 330.29,414.25 334.63,416.92 338.98,419.47 343.32,421.85 347.62,424.04 351.87,426.02 355.77,427.73 359.71,429.28 363.71,430.70 367.75,432.01 371.83,433.21 375.94,434.34 380.09,435.41 384.27,436.44 388.47,437.45 392.69,438.46 396.92,439.48 401.15,440.55 405.28,441.65 409.40,442.73 413.53,443.79 417.66,444.82 421.78,445.83 425.92,446.81 430.05,447.76 434.18,448.68 438.32,449.58 442.46,450.44 446.60,451.27 450.74,452.07 454.86,452.78 458.98,453.46 463.11,454.10 467.25,454.71 471.38,455.29 475.53,455.85 479.67,456.38 483.82,456.89 487.98,457.37 492.13,457.84 496.29,458.29 500.44,458.72 504.57,459.18 508.70,459.61 512.83,460.01 516.97,460.38 521.12,460.73 525.27,461.07 529.42,461.39 533.58,461.70 537.74,462.01 541.90,462.31 546.07,462.61 550.24,462.91 554.39,463.23 558.54,463.54 562.70,463.85 566.86,464.15 571.01,464.43 575.17,464.72 579.33,464.99 583.49,465.26 587.65,465.53 591.81,465.79 595.97,466.05 600.13,466.30 604.34,466.51 608.61,466.71 612.92,466.91 617.25,467.10 621.59,467.29 625.90,467.48 630.17,467.66 634.37,467.83 638.49,467.99 642.49,468.14 646.36,468.27 650.08,468.40 652.99,468.52 656.07,468.64 659.24,468.75 662.43,468.86 665.57,468.96 668.59,469.06 671.41,469.14 673.96,469.22 676.17,469.29 677.97,469.34 679.28,469.38 680.04,469.40" stroke="#BF00BF" stroke-width="4.7" fill="none" stroke-linejoin="round" stroke-linecap="square"/>
<path d="M92.00,477.00 92.02,476.41 92.04,475.37 92.08,473.93 92.12,472.18 92.17,470.17 92.23,467.99 92.29,465.69 92.35,463.36 92.42,461.05 92.48,458.84 92.54,456.80 92.60,455.00 92.65,453.67 92.69,452.39 92.74,451.17 92.79,449.98 92.84,448.81 92.88,447.64 92.93,446.47 92.99,445.28 93.04,444.04 93.09,442.76 93.14,441.42 93.20,440.00 93.28,437.88 93.37,435.68 93.46,433.40 93.55,431.05 93.64,428.62 93.74,426.12 93.83,423.56 93.93,420.95 94.02,418.28 94.12,415.56 94.21,412.80 94.30,410.00 94.41,406.24 94.51,402.25 94.60,398.09 94.69,393.80 94.78,389.42 94.87,385.00 94.96,380.57 95.06,376.19 95.18,371.90 95.30,367.74 95.44,363.76 95.60,360.00 95.74,357.23 95.88,354.56 96.04,351.96 96.21,349.43 96.38,346.96 96.55,344.52 96.73,342.11 96.91,339.72 97.09,337.32 97.26,334.91 97.43,332.48 97.60,330.00 97.76,327.52 97.92,325.09 98.07,322.68 98.23,320.28 98.38,317.89 98.53,315.48 98.69,313.04 98.84,310.56 99.00,308.04 99.16,305.44 99.33,302.77 99.50,300.00 99.72,296.28 99.95,292.40 100.18,288.39 100.41,284.27 100.64,280.06 100.88,275.79 101.13,271.47 101.38,267.13 101.64,262.79 101.92,258.48 102.20,254.21 102.50,250.00 102.81,245.81 103.14,241.60 103.49,237.37 103.84,233.12 104.21,228.88 104.58,224.65 104.95,220.43 105.33,216.25 105.71,212.11 106.08,208.01 106.44,203.97 106.80,200.00 107.11,196.51 107.40,193.07 107.69,189.68 107.97,186.33 108.25,183.01 108.53,179.71 108.82,176.43 109.13,173.16 109.44,169.89 109.77,166.61 110.12,163.32 110.50,160.00 110.90,156.62 111.33,153.17 111.78,149.67 112.24,146.14 112.71,142.62 113.20,139.12 113.70,135.68 114.20,132.30 114.70,129.02 115.20,125.86 115.70,122.85 116.20,120.00 116.55,118.06 116.91,116.18 117.27,114.34 117.63,112.55 118.00,110.82 118.36,109.12 118.73,107.48 119.09,105.89 119.45,104.35 119.81,102.85 120.16,101.40 120.50,100.00 120.74,99.04 120.99,98.11 121.23,97.21 121.48,96.34 121.72,95.49 121.97,94.67 122.20,93.86 122.44,93.07 122.66,92.29 122.88,91.53 123.10,90.76 123.30,90.00 123.46,89.37 123.60,88.74 123.72,88.13 123.84,87.51 123.96,86.91 124.07,86.32 124.19,85.74 124.32,85.16 124.46,84.60 124.62,84.06 124.80,83.52 125.00,83.00 125.20,82.55 125.40,82.10 125.61,81.65 125.83,81.22 126.06,80.79 126.30,80.38 126.55,79.98 126.82,79.59 127.09,79.21 127.38,78.86 127.68,78.52 128.00,78.20 128.32,77.91 128.66,77.61 129.01,77.32 129.38,77.04 129.76,76.77 130.15,76.52 130.54,76.30 130.94,76.10 131.33,75.94 131.73,75.81 132.12,75.73 132.50,75.70 132.88,75.72 133.26,75.78 133.64,75.89 134.02,76.04 134.40,76.21 134.79,76.42 135.17,76.65 135.55,76.90 135.92,77.16 136.29,77.44 136.65,77.72 137.00,78.00 137.41,78.35 137.82,78.73 138.23,79.14 138.63,79.57 139.03,80.03 139.42,80.50 139.80,80.98 140.17,81.48 140.52,81.98 140.86,82.49 141.19,83.00 141.50,83.50 141.78,84.00 142.04,84.51 142.28,85.02 142.49,85.54 142.70,86.07 142.90,86.60 143.09,87.15 143.29,87.70 143.50,88.26 143.71,88.83 143.95,89.41 144.20,90.00 144.54,90.75 144.90,91.49 145.28,92.24 145.66,93.00 146.06,93.77 146.47,94.57 146.88,95.38 147.30,96.23 147.72,97.11 148.15,98.03 148.58,98.99 149.00,100.00 149.66,101.68 150.33,103.50 151.02,105.44 151.72,107.48 152.42,109.60 153.14,111.78 153.86,114.00 154.58,116.24 155.31,118.48 156.04,120.70 156.77,122.88 157.50,125.00 158.23,127.06 158.95,129.07 159.67,131.05 160.39,133.01 161.12,134.98 161.85,136.96 162.59,138.96 163.34,141.02 164.10,143.13 164.88,145.33 165.68,147.61 166.50,150.00 167.69,153.56 168.91,157.33 170.17,161.29 171.46,165.39 172.77,169.62 174.11,173.94 175.47,178.31 176.85,182.72 178.24,187.12 179.65,191.49 181.07,195.79 182.50,200.00 183.95,204.18 185.40,208.36 186.88,212.54 188.36,216.72 189.86,220.89 191.38,225.07 192.92,229.23 194.49,233.40 196.07,237.56 197.69,241.71 199.33,245.86 201.00,250.00 202.72,254.21 204.46,258.45 206.23,262.71 208.02,266.97 209.84,271.23 211.68,275.48 213.55,279.69 215.44,283.87 217.36,288.00 219.31,292.08 221.29,296.08 223.30,300.00 225.19,303.56 227.11,307.09 229.06,310.58 231.04,314.03 233.04,317.44 235.07,320.80 237.11,324.12 239.16,327.40 241.21,330.62 243.28,333.80 245.34,336.93 247.40,340.00 249.23,342.71 251.04,345.37 252.84,347.98 254.63,350.56 256.44,353.09 258.25,355.59 260.09,358.06 261.97,360.49 263.89,362.90 265.86,365.29 267.90,367.65 270.00,370.00 272.23,372.40 274.50,374.74 276.80,377.04 279.14,379.31 281.55,381.51 284.03,383.68 286.57,385.83 289.17,387.96 291.85,390.09 294.61,392.22 297.45,394.36 300.38,396.51 304.09,399.21 307.97,401.99 312.00,404.81 316.15,407.66 320.40,410.49 324.74,413.28 329.14,415.99 333.53,418.68 337.90,421.29 342.26,423.76 346.60,426.03 350.90,428.09 354.87,429.84 358.90,431.44 362.96,432.89 367.05,434.22 371.18,435.45 375.33,436.60 379.51,437.69 383.70,438.73 387.91,439.75 392.12,440.76 396.34,441.79 400.55,442.86 404.69,443.95 408.83,445.02 412.97,446.06 417.12,447.08 421.26,448.07 425.41,449.04 429.56,449.98 433.72,450.89 437.87,451.77 442.03,452.62 446.19,453.43 450.36,454.22 454.49,454.94 458.63,455.62 462.78,456.27 466.93,456.89 471.08,457.48 475.24,458.04 479.39,458.58 483.55,459.09 487.72,459.58 491.88,460.05 496.05,460.51 500.21,460.95 504.36,461.38 508.50,461.79 512.65,462.17 516.81,462.52 520.96,462.86 525.12,463.17 529.28,463.47 533.45,463.76 537.61,464.04 541.78,464.32 545.95,464.60 550.11,464.88 554.27,465.17 558.43,465.45 562.59,465.72 566.76,465.98 570.92,466.23 575.08,466.48 579.24,466.72 583.41,466.96 587.57,467.19 591.74,467.42 595.90,467.64 600.06,467.86 604.27,468.06 608.54,468.25 612.86,468.44 617.19,468.63 621.53,468.81 625.85,468.98 630.12,469.15 634.32,469.31 638.44,469.47 642.45,469.61 646.32,469.74 650.04,469.86 652.96,469.95 656.04,470.05 659.21,470.14 662.41,470.23 665.55,470.31 668.57,470.38 671.39,470.45 673.94,470.51 676.15,470.56 677.95,470.60 679.26,470.63 680.02,470.65" stroke="#BF00BF" stroke-width="4.7" fill="none" stroke-linejoin="round" stroke-linecap="square"/>
<path d="M92.24,477.01 92.26,476.42 92.28,475.37 92.32,473.94 92.36,472.18 92.41,470.18 92.47,467.99 92.53,465.70 92.59,463.36 92.66,461.05 92.72,458.85 92.78,456.81 92.84,455.01 92.89,453.67 92.93,452.40 92.98,451.18 93.03,449.99 93.08,448.82 93.13,447.65 93.18,446.48 93.23,445.29 93.28,444.05 93.33,442.77 93.39,441.43 93.44,440.01 93.52,437.89 93.61,435.69 93.70,433.41 93.79,431.05 93.89,428.63 93.98,426.13 94.08,423.57 94.17,420.96 94.27,418.29 94.36,415.57 94.46,412.81 94.55,410.01 94.65,406.24 94.75,402.26 94.85,398.10 94.94,393.81 95.03,389.43 95.12,385.00 95.21,380.58 95.31,376.20 95.43,371.91 95.55,367.75 95.69,363.77 95.85,360.01 95.99,357.24 96.13,354.57 96.29,351.98 96.46,349.45 96.63,346.98 96.80,344.54 96.98,342.13 97.16,339.74 97.34,337.34 97.52,334.93 97.69,332.49 97.85,330.02 98.02,327.54 98.17,325.10 98.33,322.70 98.48,320.30 98.64,317.90 98.79,315.49 98.94,313.06 99.10,310.58 99.26,308.05 99.42,305.46 99.59,302.78 99.76,300.02 99.98,296.29 100.21,292.42 100.44,288.41 100.67,284.29 100.90,280.08 101.14,275.81 101.39,271.49 101.65,267.15 101.91,262.81 102.18,258.49 102.47,254.22 102.77,250.02 103.08,245.83 103.41,241.62 103.76,237.39 104.11,233.15 104.48,228.90 104.85,224.67 105.23,220.46 105.61,216.28 105.98,212.13 106.35,208.03 106.72,204.00 107.08,200.02 107.39,196.53 107.68,193.10 107.97,189.71 108.25,186.35 108.53,183.03 108.82,179.74 109.11,176.46 109.41,173.19 109.72,169.92 110.06,166.64 110.41,163.35 110.79,160.03 111.19,156.65 111.62,153.20 112.06,149.70 112.53,146.18 113.00,142.66 113.49,139.17 113.99,135.72 114.49,132.34 115.00,129.07 115.51,125.91 116.05,122.90 116.58,120.07 116.95,118.14 117.34,116.26 117.72,114.43 118.11,112.65 118.50,110.92 118.89,109.24 119.28,107.61 119.66,106.02 120.05,104.49 120.42,103.00 120.80,101.56 121.16,100.17 121.42,99.21 121.68,98.30 121.94,97.41 122.20,96.55 122.46,95.71 122.72,94.89 122.97,94.09 123.22,93.30 123.47,92.53 123.70,91.76 123.93,90.99 124.15,90.22 124.32,89.57 124.48,88.93 124.62,88.31 124.75,87.69 124.87,87.09 124.99,86.50 125.12,85.93 125.25,85.38 125.39,84.85 125.55,84.34 125.73,83.85 125.93,83.38 126.12,82.95 126.32,82.52 126.52,82.10 126.74,81.69 126.96,81.30 127.19,80.91 127.43,80.54 127.68,80.19 127.93,79.86 128.20,79.55 128.47,79.26 128.75,78.98 129.05,78.72 129.37,78.45 129.70,78.19 130.05,77.94 130.39,77.71 130.74,77.50 131.09,77.32 131.42,77.17 131.74,77.05 132.03,76.97 132.29,76.92 132.52,76.89 132.75,76.89 133.00,76.92 133.28,76.99 133.58,77.09 133.89,77.23 134.23,77.40 134.57,77.60 134.92,77.82 135.27,78.05 135.62,78.31 135.98,78.57 136.32,78.83 136.71,79.15 137.09,79.49 137.48,79.86 137.87,80.26 138.25,80.69 138.63,81.13 139.00,81.59 139.36,82.06 139.72,82.54 140.06,83.02 140.38,83.50 140.69,83.98 140.97,84.44 141.21,84.91 141.44,85.39 141.66,85.88 141.87,86.39 142.07,86.91 142.27,87.44 142.48,87.99 142.69,88.56 142.92,89.14 143.17,89.73 143.44,90.34 143.80,91.09 144.18,91.85 144.57,92.60 144.97,93.35 145.39,94.12 145.81,94.90 146.23,95.71 146.66,96.54 147.10,97.40 147.54,98.31 147.97,99.25 148.41,100.24 149.09,101.90 149.78,103.70 150.47,105.63 151.18,107.66 151.90,109.77 152.63,111.95 153.36,114.16 154.10,116.40 154.84,118.64 155.59,120.85 156.33,123.03 157.08,125.15 157.82,127.20 158.55,129.21 159.29,131.19 160.02,133.15 160.76,135.11 161.51,137.08 162.26,139.08 163.02,141.13 163.80,143.24 164.59,145.43 165.39,147.71 166.20,150.10 167.37,153.66 168.58,157.44 169.83,161.40 171.10,165.51 172.40,169.74 173.72,174.06 175.06,178.44 176.43,182.85 177.81,187.26 179.20,191.63 180.61,195.95 182.01,200.17 183.43,204.36 184.85,208.56 186.28,212.75 187.73,216.94 189.20,221.13 190.68,225.32 192.19,229.51 193.71,233.69 195.26,237.87 196.84,242.04 198.44,246.21 200.07,250.38 201.78,254.60 203.51,258.85 205.26,263.11 207.04,267.39 208.85,271.66 210.68,275.92 212.53,280.15 214.41,284.35 216.32,288.50 218.26,292.59 220.23,296.61 222.23,300.56 224.11,304.14 226.01,307.69 227.95,311.21 229.92,314.68 231.90,318.11 233.91,321.50 235.94,324.85 237.97,328.15 240.01,331.40 242.06,334.60 244.11,337.75 246.15,340.84 247.93,343.59 249.70,346.29 251.45,348.94 253.21,351.56 254.97,354.14 256.75,356.69 258.56,359.22 260.41,361.71 262.30,364.19 264.25,366.65 266.27,369.09 268.35,371.51 270.56,373.99 272.80,376.41 275.07,378.79 277.39,381.14 279.75,383.46 282.17,385.76 284.64,388.04 287.18,390.32 289.78,392.60 292.45,394.89 295.21,397.20 298.04,399.53 301.64,402.41 305.40,405.39 309.30,408.44 313.34,411.53 317.48,414.63 321.72,417.70 326.03,420.72 330.39,423.66 334.81,426.49 339.24,429.17 343.69,431.68 348.13,433.98 352.34,435.87 356.57,437.57 360.82,439.12 365.07,440.53 369.34,441.83 373.60,443.03 377.85,444.16 382.09,445.24 386.32,446.29 390.52,447.33 394.69,448.37 398.85,449.45 403.02,450.50 407.20,451.53 411.39,452.53 415.58,453.51 419.78,454.46 423.98,455.39 428.18,456.29 432.39,457.16 436.60,458.01 440.82,458.82 445.04,459.59 449.26,460.33 453.45,461.08 457.63,461.78 461.83,462.45 466.02,463.09 470.21,463.70 474.41,464.27 478.60,464.83 482.79,465.36 486.98,465.86 491.18,466.35 495.36,466.82 499.56,467.28 503.75,467.66 507.95,468.01 512.14,468.33 516.33,468.62 520.52,468.90 524.71,469.15 528.89,469.39 533.07,469.62 537.25,469.84 541.42,470.06 545.59,470.27 549.76,470.49 553.94,470.68 558.12,470.87 562.29,471.04 566.47,471.20 570.65,471.36 574.82,471.51 579.00,471.65 583.17,471.79 587.35,471.92 591.52,472.05 595.69,472.17 599.87,472.30 604.08,472.47 608.35,472.64 612.67,472.80 617.02,472.96 621.36,473.12 625.68,473.27 629.96,473.41 634.17,473.55 638.29,473.68 642.31,473.79 646.19,473.90 649.92,474.00 652.85,474.04 655.94,474.07 659.13,474.10 662.33,474.13 665.48,474.15 668.50,474.16 671.32,474.17 673.88,474.18 676.09,474.19 677.89,474.19 679.20,474.20 679.96,474.20" stroke="#BF00BF" stroke-width="4.7" fill="none" stroke-linejoin="round" stroke-linecap="square"/>
</g>
<path d="M194.7,91.95H276.4" stroke="#BF00BF" stroke-width="4.7"/>
<path d="M196.8,113.4H274.5" stroke="#008000" stroke-width="4.5" stroke-dasharray="12.6 3.5"/>
<path d="M198.1,139H279.5" stroke="#00BFBF" stroke-width="6" stroke-dasharray="5.9 4.8"/>
<g font-family="Liberation Serif" font-weight="bold" font-size="23.3">
<text x="282" y="101"><tspan letter-spacing="0.33">Williamson</tspan> hybrid ferronanofluid</text>
<text x="282" y="127"><tspan letter-spacing="0.33">Williamson</tspan> ferronanofluid</text>
<text x="282" y="152.5"><tspan letter-spacing="0.33">Williamson</tspan> host fluid</text>
</g>
<g font-family="Liberation Serif" font-weight="bold" font-size="24.9" text-anchor="middle">
<text transform="translate(92.00,500.6) scale(0.925,1)">0</text>
<text transform="translate(189.50,500.6) scale(0.925,1)">1</text>
<text transform="translate(287.00,500.6) scale(0.925,1)">2</text>
<text transform="translate(384.50,500.6) scale(0.925,1)">3</text>
<text transform="translate(482.00,500.6) scale(0.925,1)">4</text>
<text transform="translate(579.50,500.6) scale(0.925,1)">5</text>
<text transform="translate(679.30,500.6) scale(0.925,1)">6</text>
</g>
<g font-family="Liberation Serif" font-weight="bold" font-size="23.8" text-anchor="end">
<text transform="translate(85.2,483.30) scale(0.97,1)">0</text>
<text transform="translate(85.2,416.85) scale(0.97,1)">0.002</text>
<text transform="translate(85.2,350.40) scale(0.97,1)">0.004</text>
<text transform="translate(85.2,283.95) scale(0.97,1)">0.006</text>
<text transform="translate(85.2,217.50) scale(0.97,1)">0.008</text>
<text transform="translate(85.2,151.05) scale(0.97,1)">0.01</text>
<text transform="translate(85.2,84.60) scale(0.97,1)">0.012</text>
<text transform="translate(85.2,18.15) scale(0.97,1)">0.014</text>
</g>
<text x="384.5" y="520.7" font-family="Liberation Serif" font-style="italic" font-size="24" stroke="#000" stroke-width="0.6" text-anchor="middle">&#951;</text>
<g font-family="Liberation Serif" font-style="italic" font-weight="bold" font-size="23.5">
<text transform="translate(15.5,329.5) rotate(-90) scale(1.08,1)">(</text>
<text transform="translate(15.5,315.3) rotate(-90) scale(1.08,1)">&#8706;</text>
<text transform="translate(15.5,301.0) rotate(-90) scale(1.08,1)">f</text>
<text transform="translate(15.5,284.1) rotate(-90) scale(1.08,1)">/</text>
<text transform="translate(15.5,270.3) rotate(-90) scale(1.08,1)">&#8706;</text>
<text transform="translate(15.5,254.5) rotate(-90) scale(1.08,1)">&#951;</text>
<text transform="translate(15.5,236.5) rotate(-90) scale(1.08,1)">)</text>
<text transform="translate(15.5,223.0) rotate(-90) scale(1.08,1)">(</text>
<text transform="translate(15.5,209.5) rotate(-90) scale(1.08,1)">0</text>
<text transform="translate(15.5,197.5) rotate(-90) scale(1.08,1)">,</text>
<text transform="translate(15.5,183.5) rotate(-90) scale(1.08,1)">&#951;</text>
<text transform="translate(15.5,168.5) rotate(-90) scale(1.08,1)">)</text>
</g>
<text x="300.5" y="338" font-family="Liberation Serif" font-weight="bold" font-size="24.1" word-spacing="0.8">We = 0.1, 0.5, 0.9</text>
<ellipse cx="383" cy="441.2" rx="34.7" ry="25.5" fill="none" stroke="#000" stroke-width="2.7"/>
<path d="M297.5,343 L245,389.5" stroke="#000" stroke-width="2.6"/>
<path d="M231.9,401.8 L243.4,377.1 L245.2,389.2 L256.8,391.3 Z" fill="#000"/>
<path d="M419.5,430.6 L485,401.8" stroke="#000" stroke-width="2.6"/>
<path d="M502.3,394.3 L472.7,395.2 L484.5,401.8 L480.9,412.7 Z" fill="#000"/>
<rect x="513.6" y="320" width="142" height="116.2" fill="#fff"/>
<clipPath id="ic"><rect x="513.6" y="320" width="142" height="116.2"/></clipPath>
<g clip-path="url(#ic)">
<path d="M530.00,317.49 538.00,320.70 596.00,344.00 655.60,367.80 663.60,370.99" stroke="#00BFBF" stroke-width="5.8" fill="none" stroke-dasharray="5.6 5.2" stroke-dashoffset="2"/>
<path d="M565.00,316.97 573.00,320.00 605.70,332.40 624.40,340.50 654.70,352.80 662.70,356.05" stroke="#00BFBF" stroke-width="5.8" fill="none" stroke-dasharray="5.6 5.2" stroke-dashoffset="2"/>
<path d="M605.90,318.03 613.90,320.70 634.90,327.70 655.60,335.20 663.60,338.10" stroke="#00BFBF" stroke-width="5.8" fill="none" stroke-dasharray="5.6 5.2" stroke-dashoffset="2"/>
<path d="M505.60,348.37 513.60,351.00 585.00,374.50 655.60,394.70 663.60,396.99" stroke="#008000" stroke-width="4.5" fill="none" stroke-dasharray="11.9 4" stroke-dashoffset="8.74"/>
<path d="M505.60,375.55 513.60,378.30 587.00,403.50 655.60,424.80 663.60,427.28" stroke="#008000" stroke-width="4.5" fill="none" stroke-dasharray="11.9 4" stroke-dashoffset="8.65"/>
<path d="M505.60,404.64 513.60,407.30 590.00,432.70 605.00,437.70 613.00,440.37" stroke="#008000" stroke-width="4.5" fill="none" stroke-dasharray="11.9 4" stroke-dashoffset="8.72"/>
<path d="M505.60,334.66 513.60,337.60 585.00,363.80 655.60,387.10 663.60,389.74" stroke="#BF00BF" stroke-width="4.2" fill="none" stroke-linejoin="round"/>
<path d="M505.60,356.97 513.60,359.80 585.00,385.10 655.60,408.80 663.60,411.49" stroke="#BF00BF" stroke-width="4.2" fill="none" stroke-linejoin="round"/>
<path d="M505.60,393.14 513.60,396.00 590.00,423.30 630.70,437.00 638.70,439.69" stroke="#BF00BF" stroke-width="4.2" fill="none" stroke-linejoin="round"/>
</g>
<rect x="513.6" y="320" width="142" height="116.2" fill="none" stroke="#000" stroke-width="2"/>
</svg>
</body></html>
